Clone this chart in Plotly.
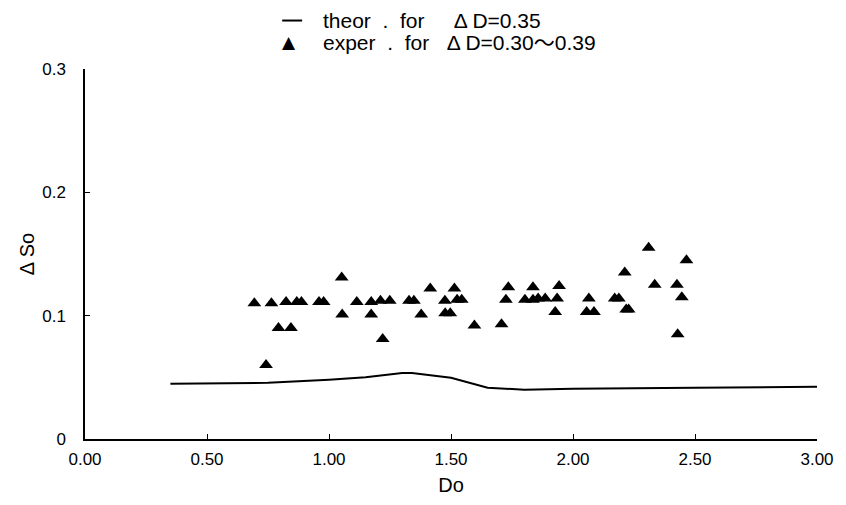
import plotly.graph_objects as go

# Theoretical curve (Do, ΔSo) for ΔD = 0.35
theor_do = [0.35, 0.75, 1.00, 1.15, 1.30, 1.34, 1.50, 1.65, 1.80, 2.00, 2.50, 3.00]
theor_ds = [0.0448, 0.0456, 0.0480, 0.0500, 0.0536, 0.0536, 0.0496, 0.0416, 0.0400, 0.0408, 0.0416, 0.0424]

# Experimental points (Do, ΔSo) for ΔD = 0.30~0.39
exper_do = [0.694, 0.764, 0.824, 0.868, 0.887, 0.959, 0.978, 1.052, 1.054, 1.114,
            1.173, 1.173, 1.211, 1.249, 1.328, 1.348, 1.378, 1.415, 1.475, 1.476,
            1.497, 1.514, 1.525, 1.544, 1.596, 1.707, 1.725, 1.735, 1.803, 0.793,
            0.844, 0.742, 1.220, 1.836, 1.836, 1.857, 1.886, 1.943, 1.935, 1.927,
            2.065, 2.056, 2.086, 2.212, 2.171, 2.188, 2.218, 2.228, 2.310, 2.335,
            2.426, 2.446, 2.465, 2.429]
exper_ds = [0.110, 0.110, 0.111, 0.111, 0.111, 0.111, 0.111, 0.131, 0.101, 0.111,
            0.111, 0.101, 0.112, 0.112, 0.112, 0.112, 0.101, 0.122, 0.112, 0.102,
            0.102, 0.122, 0.113, 0.113, 0.092, 0.093, 0.113, 0.123, 0.113, 0.090,
            0.090, 0.060, 0.081, 0.123, 0.113, 0.114, 0.114, 0.124, 0.114, 0.103,
            0.114, 0.103, 0.103, 0.135, 0.114, 0.114, 0.105, 0.105, 0.155, 0.125,
            0.125, 0.115, 0.145, 0.085]

x_tickvals = [0, 0.5, 1.0, 1.5, 2.0, 2.5, 3.0]
x_ticktext = ["0.00", "0.50", "1.00", "1.50", "2.00", "2.50", "3.00"]
y_tickvals = [0, 0.1, 0.2, 0.3]
y_ticktext = ["0", "0.1", "0.2", "0.3"]

legend_labels = ["theor  .  for     Δ D=0.35", "exper  .  for   Δ D=0.30〜0.39"]

FONT = "Liberation Sans, Arial, Noto Sans CJK JP, sans-serif"

fig = go.Figure()
fig.add_trace(go.Scatter(
    x=theor_do, y=theor_ds, mode="lines",
    line=dict(color="black", width=2),
    name=legend_labels[0], showlegend=False,
))
fig.add_trace(go.Scatter(
    x=exper_do, y=exper_ds, mode="markers",
    marker=dict(symbol="triangle-up", size=12, color="black"),
    name=legend_labels[1], showlegend=False,
))

# Legend drawn as key glyphs + text (paper coordinates above the plot area)
row1_y = 1.131
row2_y = 1.072
text_x = 0.3224
fig.add_shape(type="line", xref="paper", yref="paper",
              x0=0.2694, x1=0.2966, y0=row1_y, y1=row1_y,
              line=dict(color="black", width=2))
fig.add_annotation(xref="paper", yref="paper", x=0.279, y=row2_y,
                   text="▲", showarrow=False, xanchor="center", yanchor="middle",
                   font=dict(size=17, color="black", family="DejaVu Sans"))
fig.add_annotation(xref="paper", yref="paper", x=text_x, y=row1_y,
                   text=legend_labels[0], showarrow=False,
                   xanchor="left", yanchor="middle",
                   font=dict(size=21, color="black", family=FONT))
fig.add_annotation(xref="paper", yref="paper", x=text_x, y=row2_y,
                   text=legend_labels[1], showarrow=False,
                   xanchor="left", yanchor="middle",
                   font=dict(size=21, color="black", family=FONT))

fig.update_layout(
    width=846, height=505,
    margin=dict(l=85, r=26, t=69, b=62),
    paper_bgcolor="white", plot_bgcolor="white",
    font=dict(family=FONT, color="black", size=17),
    showlegend=False,
    xaxis=dict(
        range=[0, 3.0], tickvals=x_tickvals, ticktext=x_ticktext,
        showline=True, linecolor="black", linewidth=1.5,
        ticks="inside", ticklen=5, tickcolor="black",
        showgrid=False, zeroline=False,
        title=dict(text="Do", font=dict(size=20), standoff=10),
        tickfont=dict(size=17),
        ticklabelstandoff=4,
    ),
    yaxis=dict(
        range=[0, 0.3], tickvals=y_tickvals, ticktext=y_ticktext,
        showline=True, linecolor="black", linewidth=1.5,
        ticks="inside", ticklen=5, tickcolor="black",
        showgrid=False, zeroline=False,
        title=dict(text="Δ So", font=dict(size=20), standoff=2),
        tickfont=dict(size=17),
        ticklabelstandoff=14,
    ),
)

fig.write_html("out.html")
